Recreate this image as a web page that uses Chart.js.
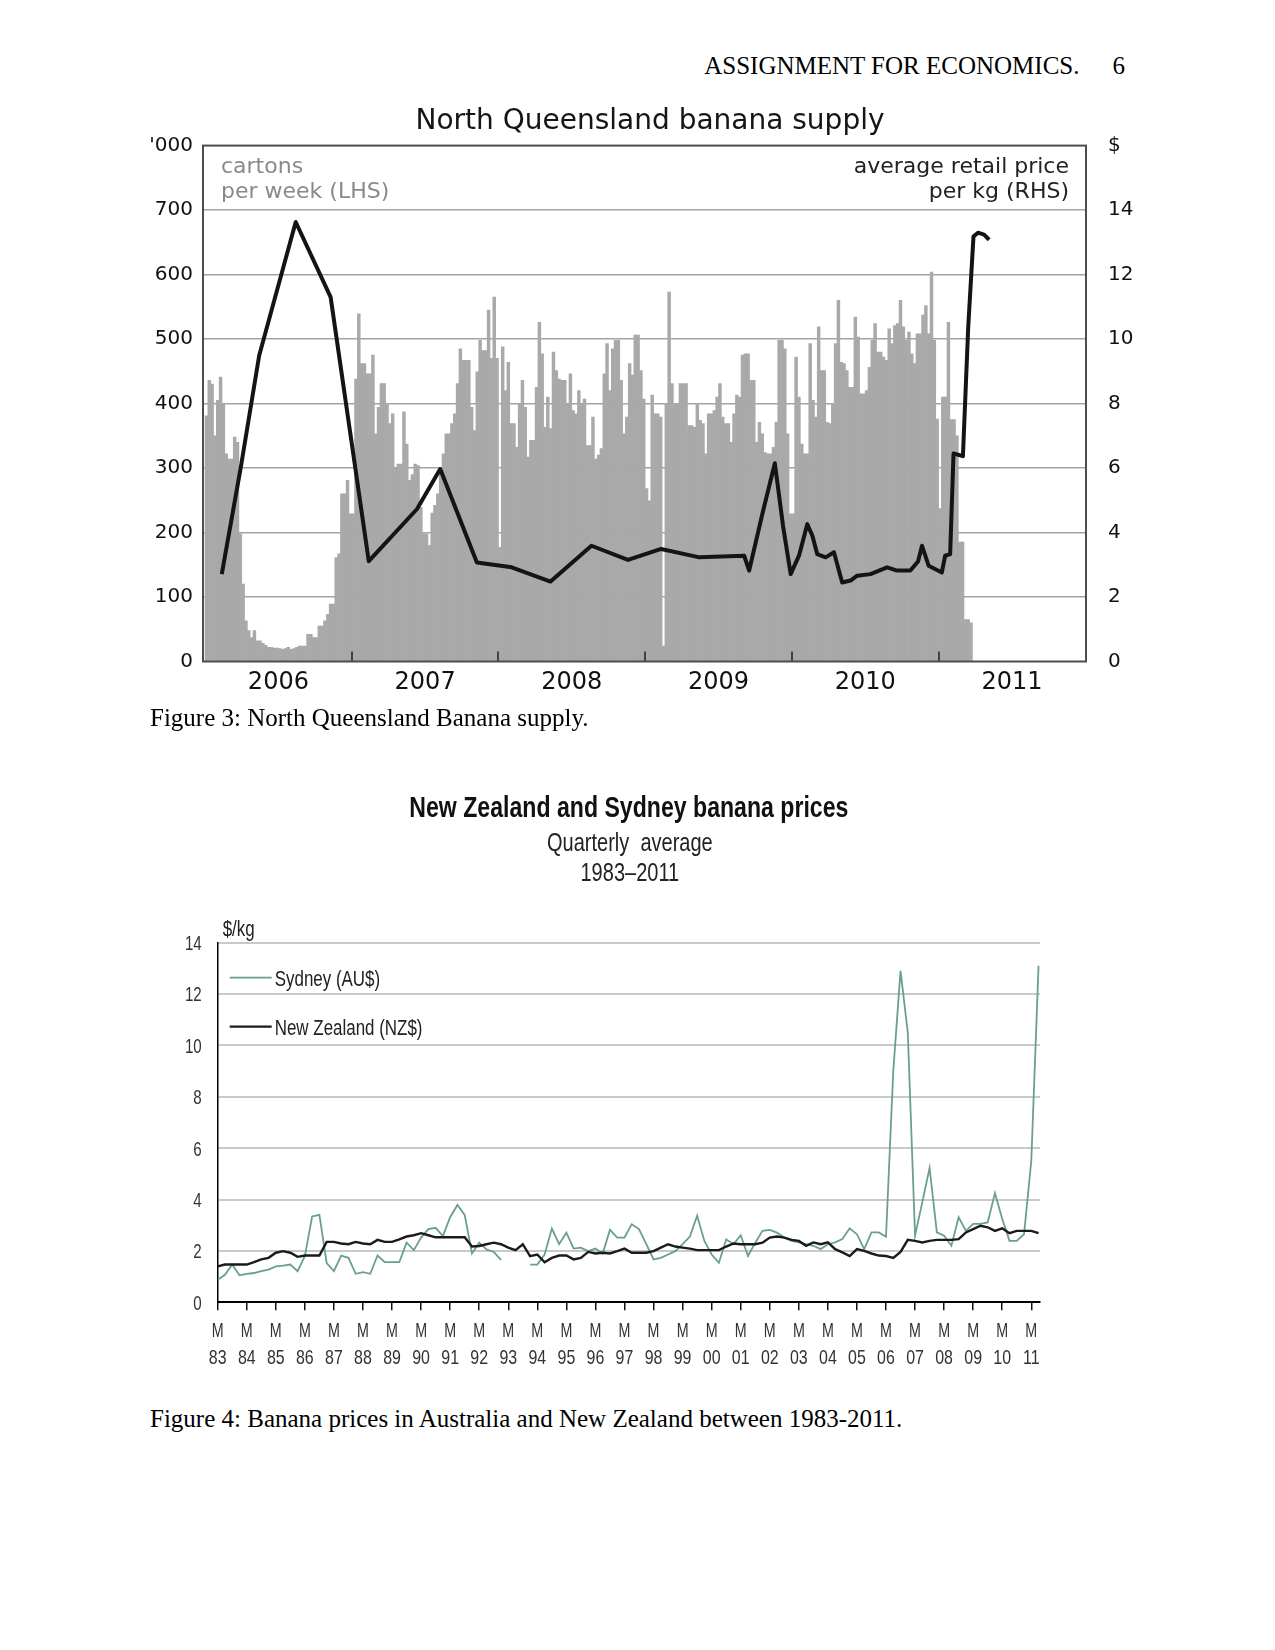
<!DOCTYPE html>
<html>
<head>
<meta charset="utf-8">
<script src="https://cdn.jsdelivr.net/npm/chart.js@4.4.1/dist/chart.umd.min.js"></script>
<style>
  html, body { margin: 0; padding: 0; background: #fff; }
  body { width: 1275px; height: 1650px; position: relative; overflow: hidden; font-family: "Liberation Serif", "Times New Roman", serif; color: #000; }
  .page-text { position: absolute; font-size: 25px; line-height: 30px; white-space: nowrap; }
  #header { top: 51px; right: 150px; }
  #header span { margin-left: 33px; }
  #cap3 { left: 150px; top: 703px; }
  #cap4 { left: 150px; top: 1404px; }
  canvas { position: absolute; }
  #supplyChart { left: 100px; top: 85px; }
  #priceChart { left: 100px; top: 760px; }
</style>
</head>
<body>
<div id="header" class="page-text">ASSIGNMENT FOR ECONOMICS.<span>6</span></div>
<canvas id="supplyChart" width="1100" height="620"></canvas>
<div id="cap3" class="page-text">Figure 3: North Queensland Banana supply.</div>
<canvas id="priceChart" width="1100" height="620"></canvas>
<div id="cap4" class="page-text">Figure 4: Banana prices in Australia and New Zealand between 1983-2011.</div>

<script>
// Figure 3 - weekly supply ('000 cartons) and retail price ($/kg)
const supplyYears = ["2006", "2007", "2008", "2009", "2010", "2011"];
const supplyWeekly = [
  381, 436, 430, 350, 405, 441, 400, 322, 314, 314,
  348, 340, 198, 120, 63, 48, 37, 48, 32, 32,
  28, 25, 22, 22, 21, 21, 20, 19, 20, 22,
  19, 20, 22, 24, 24, 24, 42, 42, 37, 37,
  55, 55, 63, 73, 89, 89, 161, 167, 260, 260,
  281, 229, 229, 438, 539, 462, 462, 446, 446, 475,
  353, 394, 431, 431, 400, 369, 384, 300, 306, 306,
  387, 337, 281, 290, 306, 304, 239, 198, 198, 180,
  230, 242, 260, 296, 322, 353, 353, 369, 384, 431,
  485, 467, 467, 467, 394, 358, 449, 498, 482, 482,
  545, 470, 565, 470, 177, 488, 420, 464, 369, 369,
  332, 400, 436, 394, 317, 343, 343, 425, 526, 477,
  363, 410, 361, 480, 451, 438, 436, 436, 400, 446,
  389, 384, 420, 400, 407, 335, 335, 379, 314, 320,
  330, 446, 493, 420, 485, 498, 498, 436, 353, 379,
  462, 444, 506, 506, 451, 407, 268, 249, 413, 384,
  384, 379, 24, 400, 573, 431, 400, 400, 431, 431,
  431, 366, 366, 363, 400, 374, 369, 322, 384, 384,
  389, 410, 431, 379, 369, 369, 340, 384, 413, 410,
  475, 477, 477, 436, 436, 340, 371, 353, 324, 322,
  322, 332, 371, 498, 498, 485, 353, 229, 229, 472,
  410, 337, 322, 322, 493, 405, 379, 519, 451, 451,
  371, 369, 400, 493, 560, 464, 462, 451, 425, 425,
  534, 503, 415, 415, 420, 456, 498, 524, 480, 480,
  472, 467, 516, 493, 521, 524, 560, 519, 498, 511,
  477, 462, 508, 508, 537, 552, 508, 604, 498, 376,
  237, 410, 410, 526, 375, 375, 350, 185, 185, 65,
  65, 60,
];
const priceDates = [
  2006.114, 2006.245, 2006.369, 2006.618, 2006.856, 2007.116, 2007.445, 2007.603,
  2007.853, 2008.090, 2008.355, 2008.634, 2008.883, 2009.109, 2009.370, 2009.675,
  2009.709, 2009.800, 2009.884, 2009.940, 2009.992, 2010.050, 2010.105, 2010.140,
  2010.173, 2010.230, 2010.287, 2010.343, 2010.400, 2010.445, 2010.536, 2010.649,
  2010.717, 2010.808, 2010.860, 2010.887, 2010.932, 2011.022, 2011.045, 2011.079,
  2011.102, 2011.166, 2011.202, 2011.238, 2011.269, 2011.310, 2011.345,
];
const priceValues = [
  2.71, 6.06, 9.49, 13.63, 11.3, 3.11, 4.73, 5.97,
  3.07, 2.92, 2.48, 3.59, 3.15, 3.49, 3.23, 3.28,
  2.82, 4.6, 6.15, 4.2, 2.71, 3.3, 4.26, 3.9,
  3.33, 3.23, 3.39, 2.45, 2.51, 2.66, 2.71, 2.92,
  2.82, 2.82, 3.1, 3.59, 2.97, 2.76, 3.28, 3.33,
  6.45, 6.37, 10.36, 13.18, 13.3, 13.24, 13.08,
];
const lhsNote = ["cartons", "per week (LHS)"];
const rhsNote = ["average retail price", "per kg (RHS)"];

// Figure 4 - quarterly prices, March 1983 onwards
const priceTitle = "New Zealand and Sydney banana prices";
const priceSubtitle = ["Quarterly  average", "1983\u20132011"];
const quarterYears = ["83", "84", "85", "86", "87", "88", "89", "90", "91", "92", "93", "94", "95", "96", "97",
  "98", "99", "00", "01", "02", "03", "04", "05", "06", "07", "08", "09", "10", "11"];
const sydneyPrices = [
  0.88, 1.07, 1.47, 1.05, 1.11, 1.14, 1.21, 1.27, 1.40, 1.43,
  1.47, 1.21, 1.80, 3.34, 3.40, 1.53, 1.21, 1.82, 1.73, 1.11,
  1.17, 1.11, 1.82, 1.56, 1.56, 1.56, 2.32, 2.03, 2.52, 2.85,
  2.90, 2.58, 3.31, 3.79, 3.40, 1.90, 2.32, 2.06, 1.96, 1.65,
  null, null, null, 1.47, 1.47, 1.86, 2.87, 2.26, 2.71, 2.09,
  2.13, 1.99, 2.09, 1.90, 2.82, 2.52, 2.52, 3.04, 2.85, 2.26,
  1.67, 1.73, 1.86, 1.99, 2.26, 2.56, 3.37, 2.39, 1.86, 1.54,
  2.45, 2.26, 2.61, 1.80, 2.32, 2.78, 2.82, 2.71, 2.52, 2.39,
  2.33, 2.26, 2.20, 2.07, 2.26, 2.33, 2.46, 2.88, 2.65, 2.07,
  2.72, 2.72, 2.55, 9.00, 12.90, 10.50, 2.60, 3.90, 5.23, 2.72,
  2.59, 2.20, 3.31, 2.78, 3.05, 3.05, 3.11, 4.25, 3.24, 2.39,
  2.39, 2.65, 5.50, 13.10,
];
const nzPrices = [
  1.40, 1.47, 1.47, 1.47, 1.47, 1.56, 1.67, 1.73, 1.93, 1.99,
  1.93, 1.77, 1.82, 1.82, 1.82, 2.35, 2.35, 2.29, 2.26, 2.35,
  2.29, 2.26, 2.43, 2.35, 2.35, 2.45, 2.56, 2.61, 2.69, 2.61,
  2.53, 2.53, 2.53, 2.53, 2.53, 2.17, 2.19, 2.26, 2.32, 2.26,
  2.13, 2.03, 2.26, 1.80, 1.86, 1.56, 1.73, 1.82, 1.82, 1.67,
  1.73, 1.96, 1.90, 1.93, 1.90, 1.99, 2.09, 1.93, 1.93, 1.93,
  1.99, 2.13, 2.26, 2.17, 2.13, 2.09, 2.03, 2.03, 2.03, 2.03,
  2.17, 2.29, 2.26, 2.26, 2.26, 2.32, 2.52, 2.56, 2.52, 2.43,
  2.39, 2.20, 2.33, 2.26, 2.33, 2.07, 1.94, 1.80, 2.07, 2.00,
  1.90, 1.82, 1.80, 1.73, 1.96, 2.43, 2.39, 2.33, 2.39, 2.43,
  2.43, 2.43, 2.46, 2.72, 2.85, 2.98, 2.92, 2.78, 2.88, 2.69,
  2.78, 2.78, 2.78, 2.69,
];

const sansFont = '"DejaVu Sans", sans-serif';
const arialFont = '"Liberation Sans", Arial, sans-serif';

// frame, year ticks and the two notes on the supply chart
const supplyFrame = {
  id: "supplyFrame",
  afterDraw(chart) {
    const { ctx, chartArea: a, scales } = chart;
    ctx.save();
    ctx.strokeStyle = "#444";
    ctx.lineWidth = 2;
    for (let i = 1; i < supplyYears.length; i++) {
      const px = Math.round(scales.x.getPixelForValue(Number(supplyYears[i])));
      ctx.beginPath();
      ctx.moveTo(px, a.bottom);
      ctx.lineTo(px, a.bottom - 10);
      ctx.stroke();
    }
    ctx.strokeStyle = "#4d4d4d";
    ctx.strokeRect(a.left, a.top, a.right - a.left, a.bottom - a.top);

    ctx.font = "22px " + sansFont;
    ctx.textBaseline = "middle";
    ctx.fillStyle = "#8a8a8a";
    ctx.textAlign = "left";
    lhsNote.forEach((t, i) => ctx.fillText(t, a.left + 18, a.top + 22 + i * 24.5));
    ctx.fillStyle = "#222";
    ctx.textAlign = "right";
    rhsNote.forEach((t, i) => ctx.fillText(t, a.right - 17, a.top + 22 + i * 24.5));
    ctx.restore();
  },
};

// condensed text, the original uses a narrow face
function narrowText(ctx, text, x, y, size, weight, align, sx = 0.77) {
  ctx.save();
  ctx.font = `${weight} ${size}px ${arialFont}`;
  ctx.textAlign = align;
  ctx.textBaseline = "alphabetic";
  ctx.translate(x, y);
  ctx.scale(sx, 1);
  ctx.fillText(text, 0, 0);
  ctx.restore();
}

// titles, tick labels, unit label and inline legend on the price chart
const priceExtras = {
  id: "priceExtras",
  afterDraw(chart) {
    const { ctx, chartArea: a, scales } = chart;
    const cx = (a.left + a.right) / 2;
    ctx.save();
    ctx.fillStyle = "#111";
    narrowText(ctx, priceTitle, cx, a.top - 126, 30, "bold", "center");
    ctx.fillStyle = "#222";
    priceSubtitle.forEach((t, i) => narrowText(ctx, t, cx + 1, a.top - 92 + i * 30, 26, "normal", "center"));

    ctx.fillStyle = "#333";
    scales.y.ticks.forEach((t) => {
      narrowText(ctx, String(t.value), a.left - 16, scales.y.getPixelForValue(t.value) + 7.5, 21, "normal", "right", 0.72);
    });
    scales.x.ticks.forEach((t, i) => {
      const px = scales.x.getPixelForValue(t.value);
      narrowText(ctx, "M", px, a.bottom + 35, 21, "normal", "center", 0.68);
      narrowText(ctx, quarterYears[i], px, a.bottom + 62, 21, "normal", "center", 0.76);
    });

    ctx.fillStyle = "#222";
    narrowText(ctx, "$/kg", a.left + 5, a.top - 7, 22, "normal", "left");
    chart.data.datasets.forEach((ds, i) => {
      const y = a.top + 35 + i * 49;
      ctx.strokeStyle = ds.borderColor;
      ctx.lineWidth = ds.borderWidth;
      ctx.beginPath();
      ctx.moveTo(a.left + 12, y);
      ctx.lineTo(a.left + 54, y);
      ctx.stroke();
      narrowText(ctx, ds.label, a.left + 57, y + 8, 22, "normal", "left");
    });
    ctx.restore();
  },
};

new Chart(document.getElementById("supplyChart"), {
  type: "bar",
  data: {
    datasets: [
      {
        type: "line",
        label: "Average retail price per kg",
        data: priceDates.map((d, i) => ({ x: d, y: priceValues[i] })),
        yAxisID: "y2",
        borderColor: "#141414",
        borderWidth: 4,
        borderJoinStyle: "round",
        pointRadius: 0,
        tension: 0,
        order: 0,
      },
      {
        type: "bar",
        label: "Cartons per week",
        data: supplyWeekly.map((v, i) => ({ x: 2006 + (i + 0.5) / 52, y: v })),
        yAxisID: "y",
        backgroundColor: "#a9a9a9",
        borderWidth: 0,
        barPercentage: 1,
        categoryPercentage: 1,
        order: 1,
      },
    ],
  },
  options: {
    responsive: false,
    animation: false,
    devicePixelRatio: 1,
    events: [],
    layout: { padding: 0 },
    plugins: {
      legend: { display: false },
      tooltip: { enabled: false },
      title: {
        display: true,
        text: "North Queensland banana supply",
        color: "#151515",
        font: { family: sansFont, size: 28, weight: "normal" },
        padding: { top: 20, bottom: 7 },
      },
    },
    scales: {
      x: {
        type: "linear",
        min: 2005.986,
        max: 2012.005,
        offset: false,
        grid: { display: false, offset: false },
        border: { display: false },
        afterBuildTicks: (s) => {
          s.ticks = supplyYears.map((y, i) => ({ value: 2006.5 + i }));
        },
        afterFit: (s) => { s.height = 43.5; },
        ticks: {
          autoSkip: false,
          maxRotation: 0,
          padding: -1,
          color: "#111",
          font: { family: sansFont, size: 24 },
          callback: (v, i) => supplyYears[i],
        },
      },
      y: {
        position: "left",
        min: 0,
        max: 800,
        border: { display: false },
        grid: {
          drawTicks: false,
          lineWidth: 1.5,
          color: (c) => (c.tick.value === 0 || c.tick.value === 800 ? "rgba(0,0,0,0)" : "#a3a3a3"),
        },
        afterFit: (s) => { s.width = 103; },
        ticks: {
          stepSize: 100,
          padding: 10,
          color: "#111",
          font: { family: sansFont, size: 20 },
          callback: (v) => (v === 800 ? "'000" : v),
        },
      },
      y2: {
        position: "right",
        min: 0,
        max: 16,
        border: { display: false },
        grid: { display: false },
        afterFit: (s) => { s.width = 114; },
        ticks: {
          stepSize: 2,
          padding: 14,
          color: "#111",
          font: { family: sansFont, size: 20 },
          callback: (v) => (v === 16 ? "$" : v),
        },
      },
    },
  },
  plugins: [supplyFrame],
});

new Chart(document.getElementById("priceChart"), {
  type: "line",
  data: {
    datasets: [
      {
        label: "Sydney (AU$)",
        data: sydneyPrices.map((v, i) => ({ x: i, y: v })),
        borderColor: "#6a9e93",
        borderWidth: 1.8,
        pointRadius: 0,
        spanGaps: false,
        order: 1,
      },
      {
        label: "New Zealand (NZ$)",
        data: nzPrices.map((v, i) => ({ x: i, y: v })),
        borderColor: "#1b1b1b",
        borderWidth: 2.4,
        pointRadius: 0,
        order: 0,
      },
    ],
  },
  options: {
    responsive: false,
    animation: false,
    devicePixelRatio: 1,
    events: [],
    layout: { padding: { top: 182.6, right: 160 } },
    plugins: {
      legend: { display: false },
      tooltip: { enabled: false },
    },
    scales: {
      x: {
        type: "linear",
        min: 0,
        max: 113.2,
        grid: { drawOnChartArea: false, drawTicks: true, tickLength: 8, color: "#111", lineWidth: 1.5 },
        border: { color: "#000", width: 2 },
        afterBuildTicks: (s) => {
          s.ticks = quarterYears.map((y, i) => ({ value: i * 4 }));
        },
        afterFit: (s) => { s.height = 77.7; },
        // labels are drawn condensed by priceExtras
        ticks: { display: false, autoSkip: false },
      },
      y: {
        min: 0,
        max: 14,
        border: { color: "#000", width: 1.5 },
        grid: {
          drawTicks: false,
          lineWidth: 2,
          color: (c) => (c.tick.value === 0 ? "rgba(0,0,0,0)" : "#c9c9c9"),
        },
        afterFit: (s) => { s.width = 117.7; },
        ticks: { display: false, stepSize: 2 },
      },
    },
  },
  plugins: [priceExtras],
});
</script>
</body>
</html>
